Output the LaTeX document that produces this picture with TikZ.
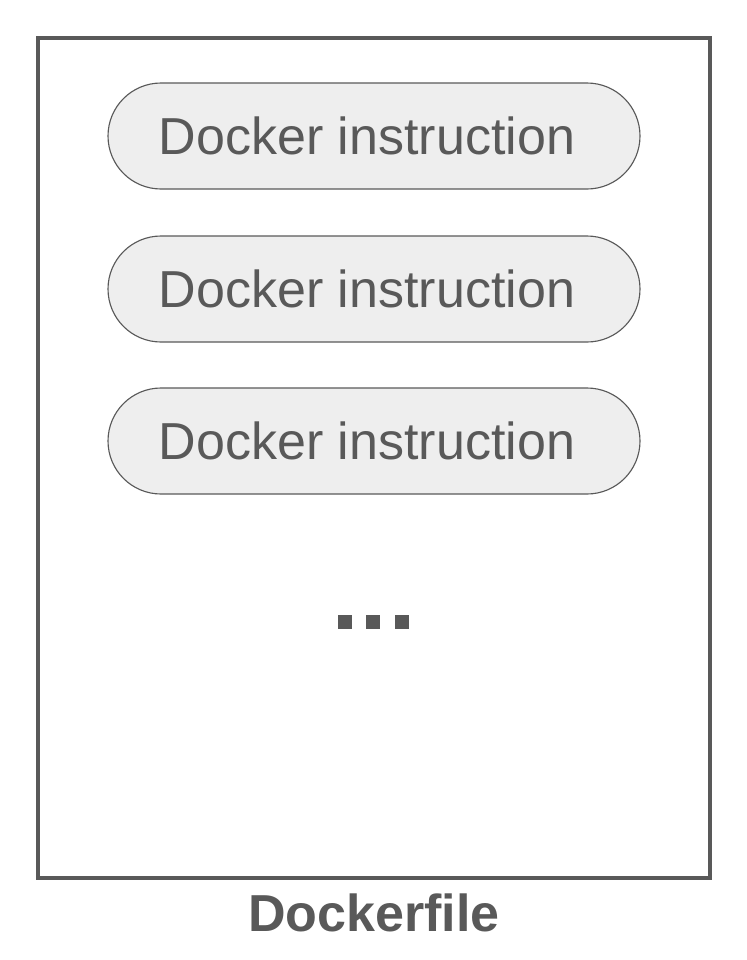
\documentclass[tikz,border=0pt]{standalone}
\usepackage{fontspec}
\setmainfont{Liberation Sans}
\definecolor{ink}{HTML}{595959}
\definecolor{pill}{HTML}{EEEEEE}
\begin{document}
\begin{tikzpicture}[x=0.025cm,y=-0.025cm,
  instr/.style={draw=ink,fill=pill,line width=0.8pt,rounded corners=53*0.025cm,
    minimum width=532*0.025cm,minimum height=106*0.025cm,text=ink,
    font=\fontsize{37}{42}\selectfont}]

%sets the page size
\useasboundingbox (0,0) rectangle (746,960);

%draws the dockerfile frame
\draw[ink,line width=3.5pt] (38,38) rectangle (710,878);

%draws the instructions
\node[instr] (ins1) at (374,136) {\hspace*{-10pt}Docker instruction};
\node[instr] (ins2) at (374,289) {\hspace*{-10pt}Docker instruction};
\node[instr] (ins3) at (374,441) {\hspace*{-10pt}Docker instruction};

%dots and label
\foreach \x in {338,366,395}
    \fill[ink] (\x,615) rectangle ++(14,14);
\node[text=ink,font=\fontsize{37}{42}\selectfont\bfseries] (label) at (374,913) {Dockerfile};

\end{tikzpicture}
\end{document}
